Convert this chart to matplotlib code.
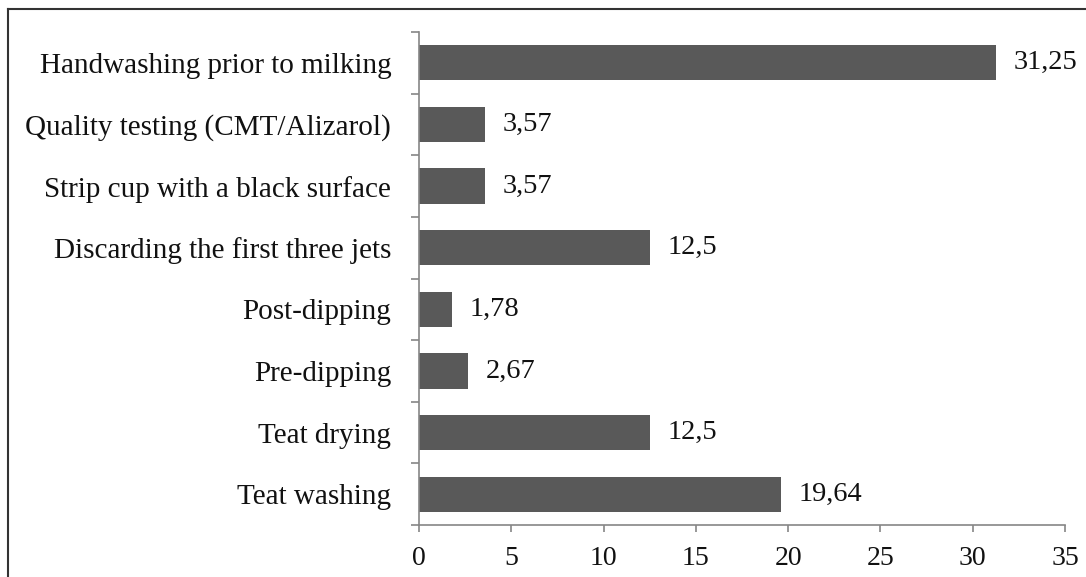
import numpy as np
import matplotlib.pyplot as plt
from matplotlib.lines import Line2D

plt.rcParams['font.family'] = ['Liberation Serif', 'DejaVu Serif']

# data, bottom to top as drawn
practices = ['Teat washing', 'Teat drying', 'Pre-dipping', 'Post-dipping',
             'Discarding the first three jets', 'Strip cup with a black surface',
             'Quality testing (CMT/Alizarol)', 'Handwashing prior to milking']
values = [19.64, 12.5, 2.67, 1.78, 12.5, 3.57, 3.57, 31.25]
value_labels = ['19,64', '12,5', '2,67', '1,78', '12,5', '3,57', '3,57', '31,25']
xticks = [0, 5, 10, 15, 20, 25, 30, 35]

fig = plt.figure(figsize=(10.86, 5.77), dpi=100)
ax = fig.add_axes([419 / 1086, 1 - 525 / 577, 646 / 1086, 493 / 577])

pos = np.arange(len(practices))
ax.barh(pos, values, height=0.57, color='#595959')

for p, v, lab in zip(pos, values, value_labels):
    ax.annotate(lab, (v, p), xytext=(12.5, 0), textcoords='offset points',
                va='center', ha='left', fontsize=20.5, color='#111111')

ax.set_xlim(0, 35)
ax.set_ylim(-0.5, len(practices) - 0.5)
ax.set_xticks(xticks)
ax.set_xticklabels([str(t) for t in xticks])

ax.set_yticks(pos)
ax.set_yticklabels(practices)
ax.set_yticks(np.arange(len(practices) + 1) - 0.5, minor=True)

axis_col = '#868686'
for side in ['top', 'right']:
    ax.spines[side].set_visible(False)
for side in ['left', 'bottom']:
    ax.spines[side].set_color(axis_col)
    ax.spines[side].set_linewidth(1.2)

ax.tick_params(axis='y', which='major', length=0, pad=20, labelsize=21, labelcolor='#111111')
ax.tick_params(axis='y', which='minor', length=6, width=1.2, color=axis_col, direction='out')
ax.tick_params(axis='x', length=5, width=1.2, color=axis_col, pad=10, labelsize=20, labelcolor='#111111')

# outer frame (left and top edges only; the rest is cropped off)
fig.add_artist(Line2D([8 / 1086, 8 / 1086], [0, 1 - 9 / 577], transform=fig.transFigure,
                      color='#333333', linewidth=1.5))
fig.add_artist(Line2D([8 / 1086, 1], [1 - 9 / 577, 1 - 9 / 577], transform=fig.transFigure,
                      color='#333333', linewidth=1.5))

fig.savefig('out.png', dpi=100)
